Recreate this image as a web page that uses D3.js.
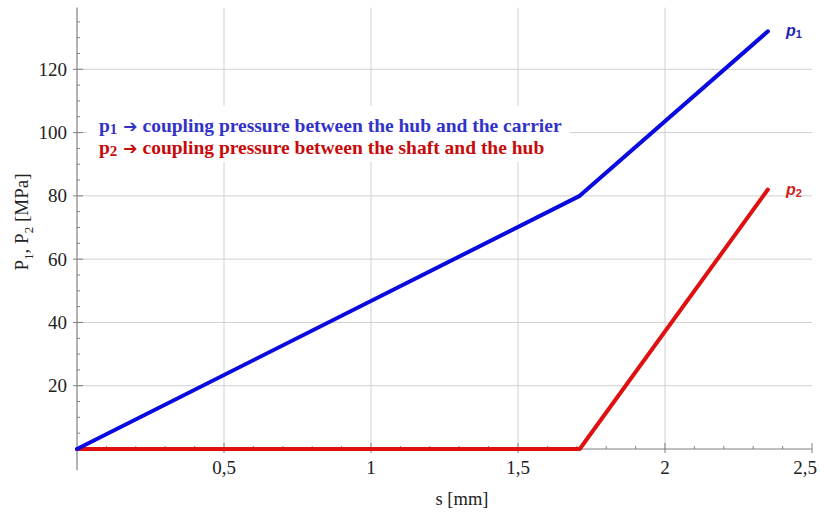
<!DOCTYPE html>
<html><head><meta charset="utf-8">
<script src="https://cdn.jsdelivr.net/npm/d3@7"></script>
<style>body{margin:0;background:#fff}svg{display:block}</style>
</head><body>
<script>
const sValues = [0, 1.71, 2.35];
const p1Values = [0, 80, 132];
const p2Values = [0, 0, 82];
const xTickValues = [0.5, 1, 1.5, 2, 2.5];
const xTickLabels = ["0,5", "1", "1,5", "2", "2,5"];
const yTickValues = [20, 40, 60, 80, 100, 120];
const yTickLabels = ["20", "40", "60", "80", "100", "120"];
const legendLines = [
  {sym: "p", sub: "1", text: " coupling pressure between the hub and the carrier", color: "#3232c8"},
  {sym: "p", sub: "2", text: " coupling pressure between the shaft and the hub", color: "#c80a0a"}
];

const W = 821, H = 515;
const svg = d3.select("body").append("svg").attr("width", W).attr("height", H);
const x = d3.scaleLinear().domain([0, 2.5]).range([77, 812]);
const y = d3.scaleLinear().domain([0, 120]).range([449, 69.3]);
const yMin = -6.7, yMax = 139.5;
const serif = "'Liberation Serif','Times New Roman',serif";

// gridlines
const g = svg.append("g");
g.selectAll("line.hg").data(yTickValues).join("line")
  .attr("x1", x(0)).attr("x2", x(2.5))
  .attr("y1", d => y(d)).attr("y2", d => y(d))
  .attr("stroke", "#d0d0d0").attr("stroke-width", 1);
g.selectAll("line.vg").data(xTickValues.filter(d => d < 2.5)).join("line")
  .attr("x1", d => x(d)).attr("x2", d => x(d))
  .attr("y1", y(yMax)).attr("y2", y(0))
  .attr("stroke", "#d0d0d0").attr("stroke-width", 1);

// legend box (white background)
svg.append("rect").attr("x", 87).attr("y", 106).attr("width", 483).attr("height", 56).attr("fill", "#fff");

// axes
const axisColor = "#808080";
svg.append("line").attr("x1", x(0)).attr("x2", x(0)).attr("y1", y(yMin)).attr("y2", y(yMax))
  .attr("stroke", axisColor).attr("stroke-width", 1.2);
svg.append("line").attr("x1", x(0)).attr("x2", x(2.5)).attr("y1", y(0)).attr("y2", y(0))
  .attr("stroke", axisColor).attr("stroke-width", 1.2);

// y minor/major ticks
const yMinor = d3.range(5, 140, 5);
svg.selectAll("line.ymt").data(yMinor).join("line")
  .attr("x1", x(0)).attr("x2", d => x(0) + (d % 20 === 0 ? 6 : 3))
  .attr("y1", d => y(d)).attr("y2", d => y(d))
  .attr("stroke", axisColor).attr("stroke-width", 1);
svg.selectAll("line.ymaj").data(yTickValues).join("line")
  .attr("x1", x(0) - 4).attr("x2", x(0))
  .attr("y1", d => y(d)).attr("y2", d => y(d))
  .attr("stroke", axisColor).attr("stroke-width", 1);
// x minor ticks
const xMinor = d3.range(1, 26).map(i => i / 10);
svg.selectAll("line.xmt").data(xMinor).join("line")
  .attr("x1", d => x(d)).attr("x2", d => x(d))
  .attr("y1", y(0)).attr("y2", d => y(0) - (Math.abs(d * 2 - Math.round(d * 2)) < 1e-6 ? 6 : 3))
  .attr("stroke", axisColor).attr("stroke-width", 1);
svg.selectAll("line.xmaj").data(xTickValues).join("line")
  .attr("x1", d => x(d)).attr("x2", d => x(d))
  .attr("y1", y(0)).attr("y2", y(0) + 4)
  .attr("stroke", axisColor).attr("stroke-width", 1);

// tick labels
svg.selectAll("text.xl").data(xTickValues).join("text")
  .attr("x", d => Math.min(x(d), W - 16)).attr("y", 474)
  .attr("text-anchor", "middle").attr("font-family", serif).attr("font-size", 19).attr("fill", "#222")
  .text((d, i) => xTickLabels[i]);
svg.selectAll("text.yl").data(yTickValues).join("text")
  .attr("x", 67).attr("y", d => y(d) + 6.5)
  .attr("text-anchor", "end").attr("font-family", serif).attr("font-size", 19).attr("fill", "#222")
  .text((d, i) => yTickLabels[i]);

// axis titles
svg.append("text").attr("x", 462).attr("y", 505).attr("text-anchor", "middle")
  .attr("font-family", serif).attr("font-size", 18.5).attr("fill", "#222").text("s [mm]");
const yt = svg.append("text").attr("transform", "translate(28,222) rotate(-90)")
  .attr("text-anchor", "middle").attr("font-family", serif).attr("font-size", 19).attr("fill", "#222");
yt.append("tspan").text("P");
yt.append("tspan").attr("font-size", 13).attr("dy", 5).text("1");
yt.append("tspan").attr("dy", -5).text(", P");
yt.append("tspan").attr("font-size", 13).attr("dy", 5).text("2");
yt.append("tspan").attr("dy", -5).text(" [MPa]");

// lines
const line = d3.line().x(d => x(d[0])).y(d => y(d[1]));
const p2 = sValues.map((s, i) => [s, p2Values[i]]);
const p1 = sValues.map((s, i) => [s, p1Values[i]]);
svg.append("path").attr("d", line(p2)).attr("fill", "none").attr("stroke", "#e01010")
  .attr("stroke-width", 4).attr("stroke-linejoin", "round").attr("stroke-linecap", "round");
svg.append("path").attr("d", line(p1)).attr("fill", "none").attr("stroke", "#0a0ae0")
  .attr("stroke-width", 4).attr("stroke-linejoin", "round").attr("stroke-linecap", "round");

// series labels
const sans = "'Liberation Sans',Arial,sans-serif";
[[p1Values, "1", "#2525b5"], [p2Values, "2", "#d02020"]].forEach(([vals, sub, col]) => {
  const last = vals[vals.length - 1];
  const t = svg.append("text").attr("x", x(sValues[sValues.length - 1]) + 18).attr("y", y(last) + 5)
    .attr("font-family", sans).attr("font-size", 16).attr("font-weight", "bold").attr("font-style", "italic").attr("fill", col);
  t.append("tspan").text("p");
  t.append("tspan").attr("font-size", 11).attr("dy", 2).attr("font-style", "normal").text(sub);
});

// legend text
legendLines.forEach((L, i) => {
  const t = svg.append("text").attr("x", 99).attr("y", 132 + i * 22)
    .attr("font-family", serif).attr("font-size", 19.5).attr("font-weight", "bold").attr("fill", L.color);
  t.append("tspan").text(L.sym);
  t.append("tspan").attr("font-size", 15).attr("dy", 2).text(L.sub);
  t.append("tspan").attr("dy", -2).attr("dx", 6).attr("font-family", "'DejaVu Sans',sans-serif").attr("font-size", 17).text("\u2794");
  t.append("tspan").text(L.text);
});
</script>
</body></html>
